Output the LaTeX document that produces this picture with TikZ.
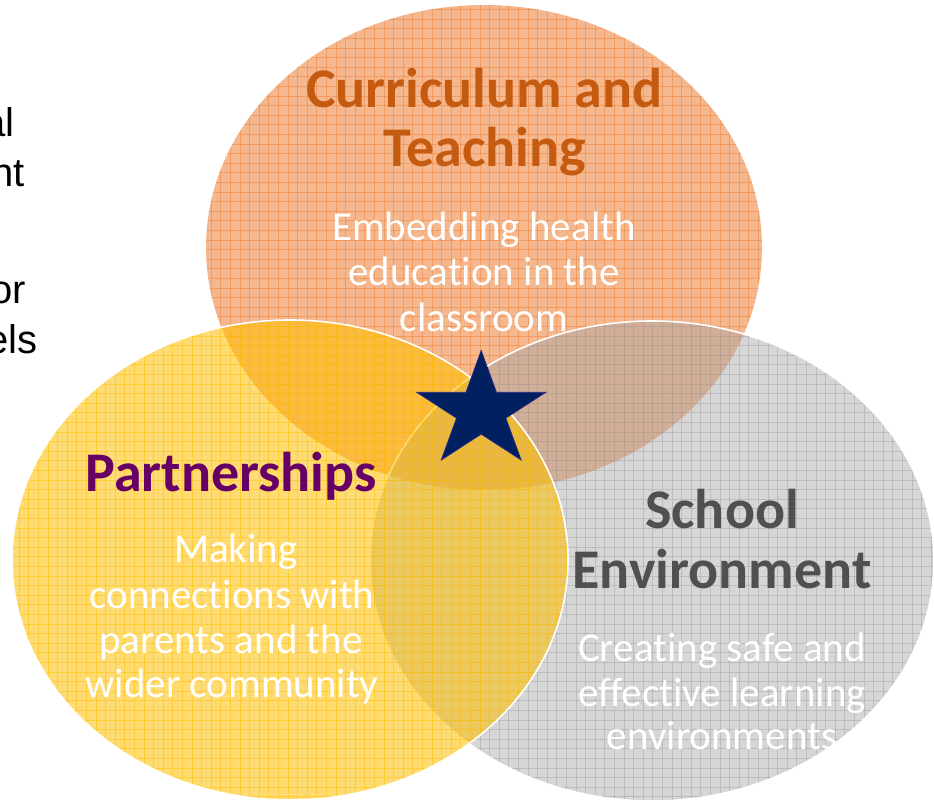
\documentclass[tikz,border=0pt]{standalone}
\usepackage{fontspec}
\setmainfont{Carlito}[Ligatures=NoCommon]
\newfontfamily\arialf{Liberation Sans}
\definecolor{orbase}{RGB}{237,125,49}
\definecolor{gybase}{RGB}{165,165,165}
\definecolor{ylbase}{RGB}{255,192,0}
\definecolor{curtxt}{RGB}{197,90,17}
\definecolor{partxt}{RGB}{102,0,102}
\definecolor{schtxt}{RGB}{80,80,80}
\definecolor{starblue}{RGB}{0,32,96}
\definecolor{staredge}{RGB}{40,40,130}
\newcommand\mygridlines[1]{%
  \foreach \gx in {0,9.6,...,940}{\draw[#1] (\gx,0) -- (\gx,802);}%
  \foreach \gy in {0,9.6,...,806}{\draw[#1] (0,\gy) -- (934,\gy);}%
}
\tikzset{
  head/.style={font=\bfseries\fontsize{56}{60}\selectfont, anchor=base, inner sep=0pt},
  subtxt/.style={font=\fontsize{41}{45}\selectfont, text=white, anchor=base, inner sep=0pt},
  cuttxt/.style={font=\arialf\fontsize{40}{46}\selectfont, text=black, anchor=base east, inner sep=0pt},
  gline/.style={line width=0.75pt},
}
\begin{document}
\begin{tikzpicture}[x=1pt,y=-1pt]
\useasboundingbox (0,0) rectangle (934,802);
\clip (0,0) rectangle (934,802);
\fill[white] (0,0) rectangle (934,802);

% left cut-off text
\node[cuttxt] (t1) at (15,137) {al};
\node[cuttxt] (t2) at (25,187) {nt};
\node[cuttxt] (t3) at (26,303) {or};
\node[cuttxt] (t4) at (38,353) {els};

% orange circle
\begin{scope}
  \clip (484,247.5) ellipse [x radius=278pt, y radius=242.5pt];
  \fill[orbase, fill opacity=0.55] (0,0) rectangle (934,802);
  \mygridlines{gline, orbase, draw opacity=0.45}
\end{scope}

% grey circle
\begin{scope}
  \clip (652,561) ellipse [x radius=282pt, y radius=240pt];
  \fill[gybase, fill opacity=0.45] (0,0) rectangle (934,802);
  \mygridlines{gline, gybase, draw opacity=0.5}
\end{scope}
\draw[white, line width=1.6pt] (652,561) ellipse [x radius=282pt, y radius=240pt];

% yellow circle
\begin{scope}
  \clip (290,560) ellipse [x radius=278pt, y radius=240pt];
  \fill[ylbase, fill opacity=0.55] (0,0) rectangle (934,802);
  \mygridlines{gline, ylbase, draw opacity=0.5}
\end{scope}
\draw[white, line width=1.6pt] (290,560) ellipse [x radius=278pt, y radius=240pt];

% texts
\node[head, text=curtxt] (cur1) at (484.5,108) {Curriculum and};
\node[head, text=curtxt] (cur2) at (485,167) {Teaching};
\node[subtxt] (emb1) at (484,241) {Embedding health};
\node[subtxt] (emb2) at (484,286) {education in the};
\node[subtxt] (emb3) at (484,331) {classroom};

\node[head, text=partxt] (par) at (231,491) {Partnerships};
\node[subtxt] (mak1) at (236,562) {Making};
\node[subtxt] (mak2) at (232,608) {connections with};
\node[subtxt] (mak3) at (231,653) {parents and the};
\node[subtxt] (mak4) at (232,697) {wider community};

\node[head, text=schtxt] (sch1) at (722,528) {School};
\node[head, text=schtxt] (sch2) at (722,588) {Environment};
\node[subtxt] (cre1) at (722,661) {Creating safe and};
\node[subtxt] (cre2) at (722,706) {effective learning};
\node[subtxt] (cre3) at (722,749) {environments};

% star
\filldraw[fill=starblue, draw=staredge, line width=0.8pt, line join=miter]
  (481.2,350.6) -- (496.4,392.3) -- (545.7,392.3) -- (505.8,418.1) --
  (521.1,459.9) -- (481.2,434.1) -- (441.3,459.9) -- (456.6,418.1) --
  (416.7,392.3) -- (466.0,392.3) -- cycle;
\end{tikzpicture}
\end{document}
